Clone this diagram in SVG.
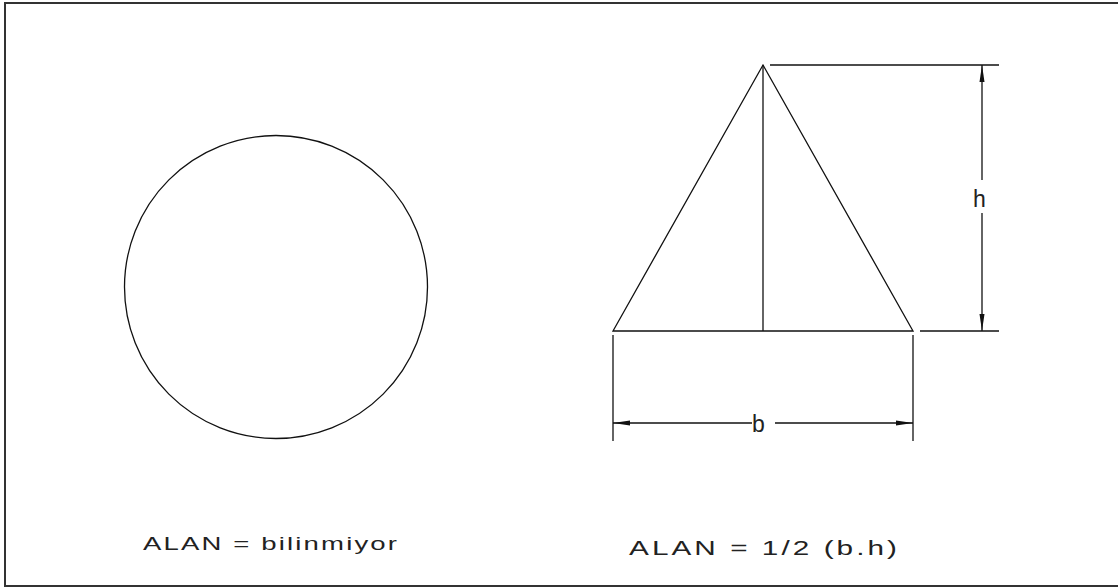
<svg xmlns="http://www.w3.org/2000/svg" width="1118" height="588" viewBox="0 0 1118 588">
<style>
.ln{stroke:#111;stroke-width:1.3;fill:none}
.ar{fill:#111;stroke:none}
.tx{font-family:"Liberation Sans",Arial,sans-serif;fill:#222}
</style>
<rect x="0" y="0" width="1118" height="588" fill="#fff"/>
<rect id="border" x="5" y="3" width="1125" height="583" fill="none" stroke="#333" stroke-width="2"/>
<g id="circle">
<circle class="ln" cx="276" cy="287" r="151.5"/>
</g>
<g id="triangle">
<polygon class="ln" points="763,65 613,331 913,331"/>
<line class="ln" x1="763" y1="65" x2="763" y2="331"/>
</g>
<g id="connectors">
<line class="ln" x1="770" y1="65" x2="999" y2="65"/>
<line class="ln" x1="920" y1="331" x2="999" y2="331"/>
<line class="ln" x1="982" y1="65" x2="982" y2="180"/>
<line class="ln" x1="982" y1="213" x2="982" y2="331"/>
<polygon class="ar" points="982,65 984.5,82 979.5,82"/>
<polygon class="ar" points="982,331 984.5,314 979.5,314"/>
<line class="ln" x1="613" y1="335" x2="613" y2="441"/>
<line class="ln" x1="913" y1="335" x2="913" y2="441"/>
<line class="ln" x1="613" y1="423" x2="752" y2="423"/>
<line class="ln" x1="775" y1="423" x2="913" y2="423"/>
<polygon class="ar" points="613,423 630,420.5 630,425.5"/>
<polygon class="ar" points="913,423 896,420.5 896,425.5"/>
</g>
<g id="labels">
<text class="tx" x="973" y="207" font-size="23">h</text>
<text class="tx" x="752" y="432" font-size="23">b</text>
<g transform="scale(1.45,1)">
<text id="label-circle" class="tx" x="98.6" y="550" font-size="19" textLength="175.2" lengthAdjust="spacing">ALAN = bilinmiyor</text>
<text id="label-triangle" class="tx" x="433.8" y="555" font-size="20.5" textLength="184.8" lengthAdjust="spacing">ALAN = 1/2 (b.h)</text>
</g>
</g>
</svg>
